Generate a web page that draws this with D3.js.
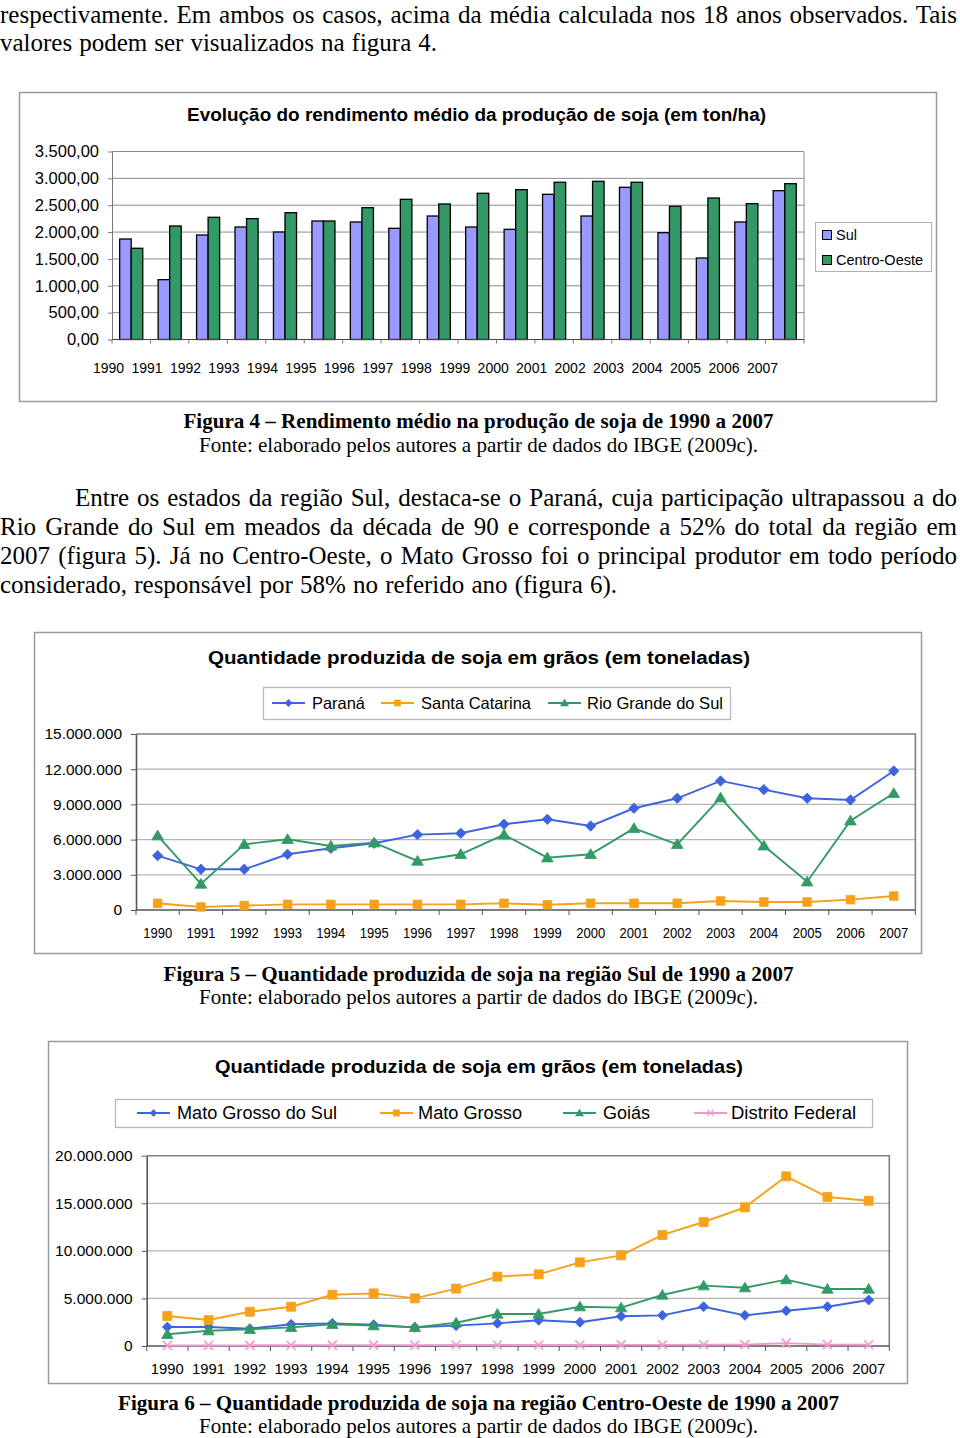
<!DOCTYPE html>
<html><head><meta charset="utf-8">
<script src="https://cdn.jsdelivr.net/npm/d3@7"></script>
<style>body{margin:0;background:#fff}svg{display:block}</style>
</head><body>
<svg id="page" width="960" height="1438"></svg>
<script>
// ---------------- DATA ----------------
const years = ["1990","1991","1992","1993","1994","1995","1996","1997","1998","1999","2000","2001","2002","2003","2004","2005","2006","2007"];

// Figura 4 – rendimento médio (kg/ha)
const rendSeries = ["Sul","Centro-Oeste"];
const rendSul = [1871,1114,1946,2094,2001,2206,2188,2070,2299,2094,2051,2703,2299,2833,1989,1517,2188,2771];
const rendCO  = [1698,2113,2275,2250,2361,2206,2454,2610,2523,2722,2789,2927,2945,2927,2480,2634,2529,2901];
const rendTicks = [0,500,1000,1500,2000,2500,3000,3500];

// Figura 5 – região Sul (toneladas)
const sulNames = ["Paraná","Santa Catarina","Rio Grande do Sul"];
const parana        = [4630000,3470000,3470000,4750000,5260000,5690000,6420000,6540000,7310000,7730000,7160000,8670000,9520000,11000000,10260000,9520000,9380000,11850000];
const santaCatarina = [570000,260000,370000,480000,480000,480000,480000,480000,570000,450000,570000,570000,570000,770000,680000,680000,880000,1190000];
const rioGrandeSul  = [6340000,2220000,5600000,6030000,5460000,5740000,4180000,4750000,6420000,4460000,4750000,6960000,5600000,9570000,5480000,2410000,7610000,9950000];
const sulTicks = [0,3000000,6000000,9000000,12000000,15000000];

// Figura 6 – região Centro-Oeste (toneladas)
const coNames = ["Mato Grosso do Sul","Mato Grosso","Goiás","Distrito Federal"];
const matoGrossoSul = [2000000,2000000,1820000,2280000,2380000,2240000,1960000,2140000,2380000,2700000,2490000,3120000,3220000,4130000,3220000,3710000,4130000,4830000];
const matoGrosso    = [3150000,2730000,3600000,4130000,5390000,5530000,5010000,6030000,7290000,7530000,8790000,9530000,11670000,13030000,14570000,17830000,15660000,15270000];
const goias         = [1230000,1610000,1750000,1960000,2280000,2140000,1960000,2450000,3360000,3360000,4130000,4030000,5360000,6340000,6130000,6970000,5990000,5990000];
const distritoFed   = [60000,60000,70000,80000,90000,90000,90000,100000,100000,100000,110000,120000,120000,130000,140000,300000,140000,130000];
const coTicks = [0,5000000,10000000,15000000,20000000];

// ---------------- HELPERS ----------------
const svg = d3.select("#page");
svg.append("rect").attr("width",960).attr("height",1438).attr("fill","#fff");
const SERIF = "'Liberation Serif','Times New Roman',serif";
const SANS = "'Liberation Sans',Arial,Helvetica,sans-serif";
const ptBR = d3.formatLocale({decimal:",",thousands:".",grouping:[3],currency:["R$",""]});
const fmt2 = ptBR.format(",.2f");
const fmt0 = ptBR.format(",");

function txt(g, s, x, y, o={}) {
  const t = g.append("text").text(s).attr("x",x).attr("y",y)
    .attr("font-family", o.family || SANS)
    .attr("font-size", o.size || 14)
    .attr("font-weight", o.weight || "normal")
    .attr("text-anchor", o.anchor || "start")
    .attr("fill", o.fill || "#000");
  if (o.len) t.attr("textLength", o.len).attr("lengthAdjust", o.adjust || "spacingAndGlyphs");
  return t;
}
// justified line: stretch word spacing, or compress if too long
function justify(t, target) {
  const nat = t.node().getComputedTextLength();
  const spaces = (t.text().match(/ /g) || []).length;
  if (nat < target && spaces > 0) t.attr("word-spacing", (target - nat) / spaces);
  else if (nat > target) t.attr("textLength", target).attr("lengthAdjust","spacingAndGlyphs");
}

// custom symbol types (size = half-width)
const symDiamond = {draw(c,r){c.moveTo(0,-r);c.lineTo(r,0);c.lineTo(0,r);c.lineTo(-r,0);c.closePath();}};
const symSquare  = {draw(c,r){c.rect(-r,-r,2*r,2*r);}};
const symTri     = {draw(c,r){c.moveTo(0,-r*1.05);c.lineTo(r*1.1,r*0.8);c.lineTo(-r*1.1,r*0.8);c.closePath();}};
const symCross   = {draw(c,r){c.moveTo(-r,-r);c.lineTo(r,r);c.moveTo(r,-r);c.lineTo(-r,r);}};

// ---------------- BODY TEXT ----------------
const body = svg.append("g");
const bodyLines = [
  {s:"respectivamente. Em ambos os casos, acima da média calculada nos 18 anos observados. Tais", x:0, y:23, len:957},
  {s:"valores podem ser visualizados na figura 4.", x:0, y:51, len:437},
  {s:"Entre os estados da região Sul, destaca-se o Paraná, cuja participação ultrapassou a do", x:75, y:506, len:882},
  {s:"Rio Grande do Sul em meados da década de 90 e corresponde a 52% do total da região em", x:0, y:535, len:957},
  {s:"2007 (figura 5). Já no Centro-Oeste, o Mato Grosso foi o principal produtor em todo período", x:0, y:564, len:957},
  {s:"considerado, responsável por 58% no referido ano (figura 6).", x:0, y:593, len:617}
];
bodyLines.forEach(l => {
  const t = txt(body, l.s, l.x, l.y, {family:SERIF, size:25});
  justify(t, l.len);
});

const captions = [
  {s:"Figura 4 – Rendimento médio na produção de soja de 1990 a 2007", y:428, bold:true, len:590},
  {s:"Fonte: elaborado pelos autores a partir de dados do IBGE (2009c).", y:452, len:559},
  {s:"Figura 5 – Quantidade produzida de soja na região Sul de 1990 a 2007", y:981, bold:true, len:630},
  {s:"Fonte: elaborado pelos autores a partir de dados do IBGE (2009c).", y:1004, len:559},
  {s:"Figura 6 – Quantidade produzida de soja na região Centro-Oeste de 1990 a 2007", y:1410, bold:true, len:721},
  {s:"Fonte: elaborado pelos autores a partir de dados do IBGE (2009c).", y:1433, len:559}
];
captions.forEach(c => txt(body, c.s, 478.5, c.y, {family:SERIF, size:21, weight:c.bold?"bold":"normal", anchor:"middle", len:c.len}));

// ---------------- CHART 1 (bars) ----------------
{
  const g = svg.append("g");
  g.append("rect").attr("x",19.5).attr("y",92.5).attr("width",917).attr("height",309)
    .attr("fill","#fff").attr("stroke","#9a9a9a").attr("stroke-width",1.5);
  txt(g, "Evolução do rendimento médio da produção de soja (em ton/ha)", 476.5, 121,
      {size:17.5, weight:"bold", anchor:"middle", len:579});

  const L=112, R=804, T=151.5, B=339.5;
  const x0 = d3.scaleBand().domain(years).range([L,R]);
  const bw = x0.bandwidth();
  const x1 = d3.scaleBand().domain(rendSeries).range([bw*0.2, bw*0.8]);
  const y = d3.scaleLinear().domain([0,3500]).range([B,T]);
  const colors = {"Sul":"#9999FF","Centro-Oeste":"#339966"};

  g.append("g").selectAll("line").data(rendTicks.filter(d=>d>0)).join("line")
    .attr("x1",L).attr("x2",R).attr("y1",d=>y(d)).attr("y2",d=>y(d))
    .attr("stroke","#8c8c8c").attr("stroke-width",1);
  g.append("line").attr("x1",R).attr("x2",R).attr("y1",T).attr("y2",B).attr("stroke","#8c8c8c");

  const rows = years.map((yr,i)=>({year:yr, vals:[{k:"Sul",v:rendSul[i]},{k:"Centro-Oeste",v:rendCO[i]}]}));
  g.append("g").selectAll("g").data(rows).join("g")
    .attr("transform",d=>`translate(${x0(d.year)},0)`)
    .selectAll("rect").data(d=>d.vals).join("rect")
    .attr("x",d=>x1(d.k)).attr("width",x1.bandwidth())
    .attr("y",d=>y(d.v)).attr("height",d=>B-y(d.v))
    .attr("fill",d=>colors[d.k]).attr("stroke","#000").attr("stroke-width",1.3);

  const ya = g.append("g").attr("transform",`translate(${L},0)`)
    .call(d3.axisLeft(y).tickValues(rendTicks).tickFormat(fmt2).tickSize(4).tickSizeOuter(0).tickPadding(9));
  ya.select(".domain").attr("stroke","#777");
  ya.selectAll("line").attr("stroke","#777");
  ya.selectAll("text").attr("font-family",SANS).attr("font-size",16.5).attr("fill","#000");

  // bottom axis line + boundary ticks
  g.append("line").attr("x1",L).attr("x2",R).attr("y1",B).attr("y2",B).attr("stroke","#444");
  g.append("g").selectAll("line").data(years.concat(["end"])).join("line")
    .attr("x1",d=>d==="end"?R:x0(d)).attr("x2",d=>d==="end"?R:x0(d))
    .attr("y1",B).attr("y2",B+4).attr("stroke","#777");
  const xl = d3.scaleBand().domain(years).range([89.3, 781.7]);
  g.append("g").selectAll("text").data(years).join("text")
    .text(d=>d).attr("x",d=>xl(d)+xl.bandwidth()/2).attr("y",373)
    .attr("text-anchor","middle").attr("font-family",SANS).attr("font-size",14);

  // legend
  const lg = g.append("g");
  lg.append("rect").attr("x",815.5).attr("y",222.5).attr("width",116).attr("height",49)
    .attr("fill","#fff").attr("stroke","#b0b0b0");
  rendSeries.forEach((k,i)=>{
    lg.append("rect").attr("x",822.5).attr("y",230.5+i*25).attr("width",9).attr("height",9)
      .attr("fill",colors[k]).attr("stroke","#000");
    txt(lg, k, 836, 240+i*25, {size:14.5});
  });
}

// ---------------- LINE CHART FACTORY ----------------
function lineChart(cfg) {
  const g = svg.append("g");
  const f = cfg.frame;
  g.append("rect").attr("x",f[0]+0.5).attr("y",f[1]+0.5).attr("width",f[2]-f[0]).attr("height",f[3]-f[1])
    .attr("fill","#fff").attr("stroke","#9a9a9a").attr("stroke-width",1.5);
  txt(g, cfg.title, cfg.titleX, cfg.titleY, {size:18, weight:"bold", anchor:"middle", len:cfg.titleLen});

  const {L,R,T,B} = cfg.plot;
  const x = d3.scaleBand().domain(years).range([L,R]);
  const bw = x.bandwidth();
  const y = d3.scaleLinear().domain([0, d3.max(cfg.ticks)]).range([B,T]);

  g.append("g").selectAll("line").data(cfg.ticks.filter(d=>d>0 && d<d3.max(cfg.ticks))).join("line")
    .attr("x1",L).attr("x2",R).attr("y1",d=>y(d)).attr("y2",d=>y(d))
    .attr("stroke","#b4b4b4").attr("stroke-width",1.2);
  g.append("path").attr("d",`M${L},${T}H${R}V${B}`).attr("fill","none").attr("stroke","#808080").attr("stroke-width",1.6);

  const ya = g.append("g").attr("transform",`translate(${L},0)`)
    .call(d3.axisLeft(y).tickValues(cfg.ticks).tickFormat(fmt0).tickSize(5).tickSizeOuter(0).tickPadding(9));
  ya.select(".domain").attr("stroke","#555").attr("stroke-width",1.6);
  ya.selectAll("line").attr("stroke","#555");
  ya.selectAll("text").attr("font-family",SANS).attr("font-size",cfg.yFont).attr("fill","#000");

  g.append("line").attr("x1",L).attr("x2",R).attr("y1",B).attr("y2",B).attr("stroke","#555").attr("stroke-width",1.6);
  g.append("g").selectAll("line").data(years.concat(["end"])).join("line")
    .attr("x1",d=>d==="end"?R:x(d)).attr("x2",d=>d==="end"?R:x(d))
    .attr("y1",B).attr("y2",B+5).attr("stroke","#555");
  g.append("g").selectAll("text").data(years).join("text")
    .text(d=>d).attr("x",d=>x(d)+bw/2).attr("y",cfg.xLabelY)
    .attr("text-anchor","middle").attr("font-family",SANS).attr("font-size",cfg.xFont)
    .each(function(){ if (cfg.xLen) d3.select(this).attr("textLength",cfg.xLen).attr("lengthAdjust","spacingAndGlyphs"); });

  const line = d3.line().x((d,i)=>x(years[i])+bw/2).y(d=>y(d));
  cfg.series.forEach(s=>{
    g.append("path").datum(s.values).attr("d",line).attr("fill","none")
      .attr("stroke",s.color).attr("stroke-width",1.9);
    const sym = d3.symbol().type(s.sym).size(s.r);
    g.append("g").selectAll("path").data(s.values).join("path")
      .attr("transform",(d,i)=>`translate(${x(years[i])+bw/2},${y(d)})`)
      .attr("d",sym)
      .attr("fill",s.sym===symCross?"none":s.color)
      .attr("stroke",s.color).attr("stroke-width",s.sym===symCross?1.6:0.8);
  });

  // legend
  const lg = g.append("g");
  const lb = cfg.legendBox;
  lg.append("rect").attr("x",lb[0]+0.5).attr("y",lb[1]+0.5).attr("width",lb[2]-lb[0]).attr("height",lb[3]-lb[1])
    .attr("fill","#fff").attr("stroke","#b8b8b8").attr("stroke-width",1.3);
  const cy = (lb[1]+lb[3])/2;
  cfg.series.forEach((s,i)=>{
    const it = cfg.legendItems[i];
    lg.append("line").attr("x1",it.lx).attr("x2",it.lx+33).attr("y1",cy).attr("y2",cy)
      .attr("stroke",s.color).attr("stroke-width",1.9);
    lg.append("path").attr("transform",`translate(${it.lx+16.5},${cy})`)
      .attr("d",d3.symbol().type(s.sym).size(s.r*0.7))
      .attr("fill",s.sym===symCross?"none":s.color).attr("stroke",s.color).attr("stroke-width",s.sym===symCross?1.3:0.6);
    txt(lg, s.name, it.tx, cy+6, {size:cfg.legFont, len:it.len});
  });
}

lineChart({
  frame:[34,632,921,953],
  title:"Quantidade produzida de soja em grãos (em toneladas)", titleX:479, titleY:663.5, titleLen:542,
  plot:{L:136, R:915.4, T:734, B:910},
  ticks:sulTicks, yFont:15.5, xFont:14.5, xLabelY:938, xLen:29,
  series:[
    {name:sulNames[0], values:parana, color:"#3D63E0", sym:symDiamond, r:5.2},
    {name:sulNames[1], values:santaCatarina, color:"#F7A11A", sym:symSquare, r:4.3},
    {name:sulNames[2], values:rioGrandeSul, color:"#339966", sym:symTri, r:5.3}
  ],
  legendBox:[263,687,730,719], legFont:16.5,
  legendItems:[{lx:272,tx:312,len:53},{lx:381,tx:421,len:110},{lx:548,tx:587,len:136}]
});

lineChart({
  frame:[48,1041,907,1383],
  title:"Quantidade produzida de soja em grãos (em toneladas)", titleX:479, titleY:1072.5, titleLen:528,
  plot:{L:146.7, R:889.3, T:1155.7, B:1346},
  ticks:coTicks, yFont:15.5, xFont:15, xLabelY:1374, xLen:33,
  series:[
    {name:coNames[0], values:matoGrossoSul, color:"#3D63E0", sym:symDiamond, r:5},
    {name:coNames[1], values:matoGrosso, color:"#F7A11A", sym:symSquare, r:4.5},
    {name:coNames[2], values:goias, color:"#339966", sym:symTri, r:5.2},
    {name:coNames[3], values:distritoFed, color:"#EE99CC", sym:symCross, r:4.5}
  ],
  legendBox:[115,1099,872,1127], legFont:17.5,
  legendItems:[{lx:137,tx:177,len:160},{lx:380,tx:418,len:104},{lx:563,tx:603,len:47},{lx:694,tx:731,len:125}]
});
</script>
</body></html>
